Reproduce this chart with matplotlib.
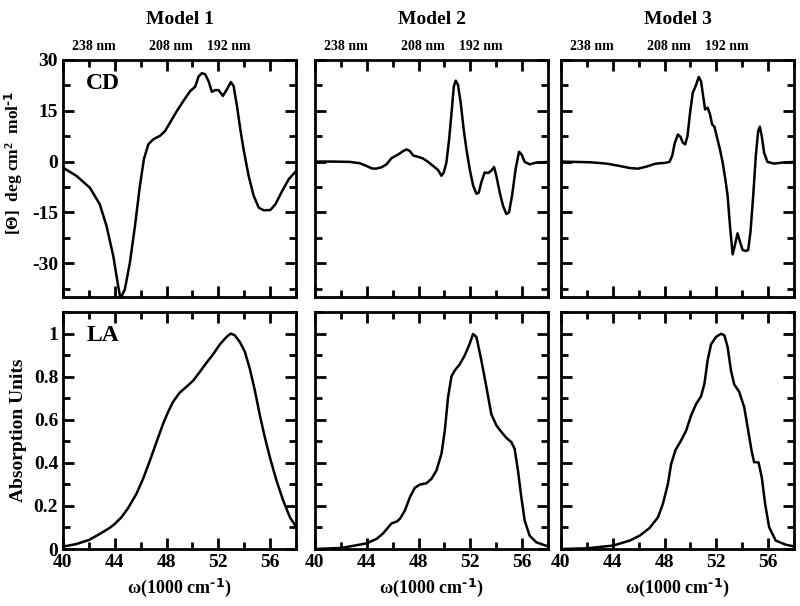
import numpy as np
import matplotlib
matplotlib.use('Agg')
import matplotlib.pyplot as plt
from matplotlib.ticker import MultipleLocator

plt.rcParams['font.family'] = ['Liberation Serif', 'DejaVu Serif']
plt.rcParams['font.weight'] = 'bold'
plt.rcParams['mathtext.default'] = 'regular'
plt.rcParams['axes.unicode_minus'] = False

# CD spectra (w in 1000 cm-1, [Theta])
cd1_w = [40.0, 41.03, 42.07, 42.84, 43.36, 43.88, 44.26, 44.44, 44.78, 45.17, 45.56, 45.94,
         46.25, 46.59, 46.98, 47.49, 47.88, 48.27, 48.79, 49.3, 49.82, 50.21, 50.47, 50.72,
         50.98, 51.24, 51.5, 51.76, 52.02, 52.35, 52.66, 52.97, 53.18, 53.44, 53.7, 53.95,
         54.34, 54.73, 55.12, 55.5, 56.02, 56.41, 56.93, 57.44, 57.96]
cd1_v = [-1.8, -4.2, -7.7, -12.6, -19.0, -27.8, -36.7, -40.5, -37.7, -29.8, -19.0, -7.2,
         0.7, 5.1, 6.6, 7.6, 9.0, 11.5, 14.9, 17.9, 20.8, 22.1, 25.1, 26.1,
         25.8, 23.8, 20.6, 21.1, 21.1, 19.4, 21.3, 23.5, 22.3, 16.4, 9.5, 3.6,
         -4.2, -10.1, -13.6, -14.4, -14.3, -12.6, -8.7, -5.2, -3.0]

cd2_w = [40.0, 41.41, 42.70, 43.47, 43.98, 44.37, 44.70, 45.14, 45.53, 45.91, 46.43, 46.81,
         47.07, 47.33, 47.58, 47.97, 48.35, 48.74, 49.13, 49.51, 49.77, 49.95, 50.15, 50.36,
         50.57, 50.72, 50.87, 51.05, 51.26, 51.49, 51.70, 51.95, 52.21, 52.47, 52.65, 52.85,
         53.11, 53.37, 53.62, 53.83, 54.01, 54.27, 54.52, 54.78, 54.99, 55.22, 55.50, 55.76,
         55.96, 56.20, 56.58, 57.10, 58.0]
cd2_v = [0.0, 0.0, -0.1, -0.5, -1.3, -2.0, -2.1, -1.7, -0.8, 1.0, 2.1, 3.1,
         3.6, 3.1, 1.8, 1.4, 0.9, -0.1, -1.3, -2.5, -4.2, -3.2, -0.3, 6.5,
         15.3, 22.1, 23.9, 22.6, 17.2, 9.4, 3.6, -2.2, -7.0, -9.5, -9.2, -6.1,
         -3.2, -3.4, -2.7, -1.6, -4.2, -9.1, -13.0, -15.5, -15.0, -10.1, -2.2, 2.9,
         2.1, -0.1, -0.8, -0.3, -0.1]

cd3_w = [40.0, 42.23, 43.51, 44.54, 45.31, 45.95, 46.59, 47.23, 47.62, 48.0, 48.38, 48.59,
         48.79, 49.03, 49.23, 49.41, 49.59, 49.77, 49.97, 50.18, 50.44, 50.64, 50.82, 51.0,
         51.13, 51.33, 51.51, 51.67, 51.85, 52.03, 52.28, 52.49, 52.69, 52.87, 53.05, 53.26,
         53.44, 53.64, 53.82, 54.03, 54.28, 54.46, 54.64, 54.85, 55.05, 55.23, 55.36, 55.51,
         55.69, 55.95, 56.46, 57.10, 58.0]
cd3_v = [0.0, -0.2, -0.6, -1.3, -1.9, -2.1, -1.5, -0.7, -0.5, -0.4, -0.1, 1.7,
         5.5, 8.0, 7.3, 5.6, 5.1, 7.5, 14.4, 20.3, 22.7, 25.0, 23.7, 18.8,
         15.4, 15.9, 14.0, 11.0, 10.3, 7.5, 3.6, -0.3, -5.1, -10.0, -18.8, -27.4,
         -24.6, -21.2, -23.6, -26.1, -26.4, -26.1, -20.7, -10.0, 1.7, 9.0, 10.3, 7.5,
         2.6, -0.1, -0.6, -0.3, -0.1]

# LA spectra (absorption units)
la1_w = [40.0, 41.03, 42.01, 42.84, 43.61, 43.99, 44.51, 45.03, 45.67, 46.19, 46.70, 47.22,
         47.73, 48.12, 48.51, 49.02, 49.54, 50.05, 50.57, 51.08, 51.60, 52.11, 52.63, 52.96,
         53.27, 53.66, 54.05, 54.43, 54.82, 55.21, 55.59, 55.98, 56.49, 57.01, 57.53, 58.0]
la1_v = [0.011, 0.023, 0.042, 0.070, 0.098, 0.116, 0.147, 0.190, 0.256, 0.326, 0.408, 0.496,
         0.581, 0.636, 0.684, 0.726, 0.753, 0.781, 0.822, 0.864, 0.904, 0.949, 0.984, 1.0,
         0.992, 0.961, 0.915, 0.837, 0.736, 0.620, 0.519, 0.426, 0.318, 0.225, 0.147, 0.104]

la2_w = [40.0, 42.06, 43.98, 44.76, 45.27, 45.66, 45.91, 46.30, 46.56, 46.94, 47.33, 47.71,
         48.10, 48.61, 49.0, 49.38, 49.77, 50.03, 50.28, 50.54, 50.80, 51.18, 51.57, 51.95,
         52.21, 52.47, 52.85, 53.24, 53.62, 54.01, 54.40, 54.78, 55.17, 55.42, 55.68, 55.94,
         56.20, 56.58, 57.10, 58.0]
la2_v = [0.0, 0.005, 0.026, 0.047, 0.073, 0.101, 0.119, 0.127, 0.140, 0.178, 0.240, 0.284,
         0.299, 0.305, 0.326, 0.364, 0.442, 0.550, 0.705, 0.801, 0.829, 0.857, 0.899, 0.953,
         0.998, 0.984, 0.876, 0.752, 0.626, 0.574, 0.543, 0.516, 0.496, 0.465, 0.364, 0.240,
         0.132, 0.062, 0.031, 0.012]

la3_w = [40.0, 41.97, 44.03, 45.31, 46.08, 46.85, 47.49, 47.87, 48.26, 48.51, 48.85, 49.28,
         49.67, 50.05, 50.44, 50.82, 51.08, 51.33, 51.59, 51.97, 52.36, 52.62, 52.87, 53.13,
         53.38, 53.77, 54.15, 54.46, 54.72, 54.92, 55.26, 55.51, 55.77, 56.08, 56.59, 57.36, 58.0]
la3_v = [0.0, 0.003, 0.016, 0.039, 0.062, 0.098, 0.147, 0.209, 0.302, 0.395, 0.460, 0.504,
         0.550, 0.620, 0.673, 0.709, 0.767, 0.876, 0.950, 0.984, 0.999, 0.992, 0.938, 0.829,
         0.764, 0.729, 0.659, 0.550, 0.457, 0.403, 0.402, 0.333, 0.209, 0.101, 0.039, 0.020, 0.012]

titles = ['Model 1', 'Model 2', 'Model 3']
nm_labels = ['238 nm', '208 nm', '192 nm']
nm_pos = [42.4, 48.3, 52.8]

CD = [(cd1_w, cd1_v), (cd2_w, cd2_v), (cd3_w, cd3_v)]
LA = [(la1_w, la1_v), (la2_w, la2_v), (la3_w, la3_v)]

fig = plt.figure(figsize=(8, 6.06), dpi=100)
lefts = [63/800, 315/800, 561/800]
width = 233/800


def style(ax):
    ax.set_xlim(40, 58)
    ax.xaxis.set_major_locator(MultipleLocator(4))
    ax.xaxis.set_minor_locator(MultipleLocator(2))
    ax.tick_params(which='both', direction='in', top=True, right=True, width=2,
                   labelsize=14)
    ax.tick_params(which='major', length=8)
    ax.tick_params(which='minor', length=5)
    for s in ax.spines.values():
        s.set_linewidth(2)


for i in range(3):
    ax = fig.add_axes([lefts[i], 1 - 297/606, width, 237/606])
    w, v = CD[i]
    ax.plot(w, v, color='black', lw=1.8)
    style(ax)
    ax.set_ylim(-40, 30)
    ax.yaxis.set_major_locator(MultipleLocator(15))
    ax.yaxis.set_minor_locator(MultipleLocator(7.5))
    ax.set_xticklabels([])
    ax.set_title(titles[i], fontsize=14, fontweight='bold', pad=26)
    for lab, p in zip(nm_labels, nm_pos):
        ax.text(p, 1.03, lab, transform=ax.get_xaxis_transform(), ha='center',
                va='bottom', fontsize=10, fontweight='bold')
    if i == 0:
        ax.set_ylabel(r'[Θ]  deg cm$^{2}$  mol$^{\text{-1}}$', fontsize=12.5,
                      fontweight='bold')
        ax.yaxis.set_label_coords(-0.165, 0.565)
        ax.text(0.1, 0.9, 'CD', transform=ax.transAxes, fontsize=17, fontweight='bold',
                va='center')
    else:
        ax.set_yticklabels([])

    ax2 = fig.add_axes([lefts[i], 1 - 549/606, width, 237/606])
    w, v = LA[i]
    ax2.plot(w, v, color='black', lw=1.8)
    style(ax2)
    ax2.set_ylim(0, 1.1)
    ax2.yaxis.set_minor_locator(MultipleLocator(0.1))
    ax2.set_yticks([0, 0.2, 0.4, 0.6, 0.8, 1.0])
    ax2.set_xlabel(r'ω(1000 cm$^{\text{-1}}$)', fontsize=13, fontweight='bold')
    if i == 0:
        ax2.set_yticklabels(['0', '0.2', '0.4', '0.6', '0.8', '1'])
        ax2.set_ylabel('Absorption Units', fontsize=14, fontweight='bold')
        ax2.yaxis.set_label_coords(-0.155, 0.5)
        ax2.text(0.1, 0.9, 'LA', transform=ax2.transAxes, fontsize=17, fontweight='bold',
                 va='center')
    else:
        ax2.set_yticklabels([])

fig.savefig('out.png', dpi=100)
